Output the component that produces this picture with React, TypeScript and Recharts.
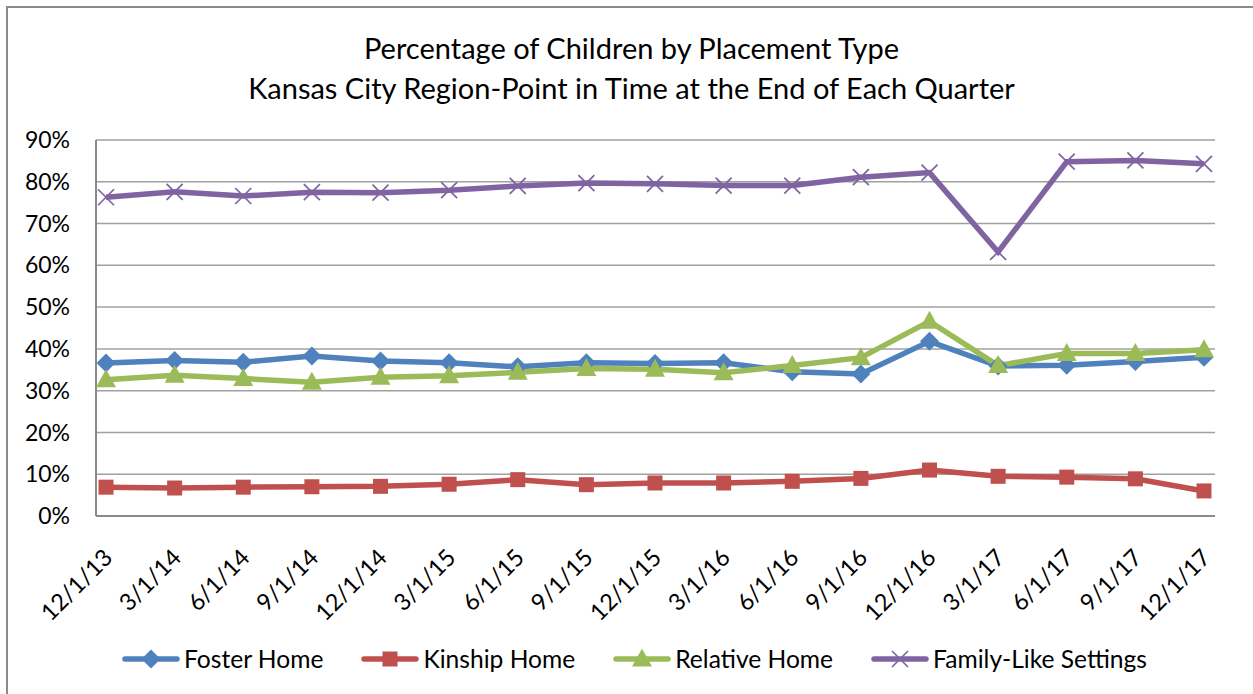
import React from "react";
import { LineChart, Line, XAxis, YAxis, CartesianGrid } from "recharts";

const categories = [
  "12/1/13", "3/1/14", "6/1/14", "9/1/14", "12/1/14", "3/1/15", "6/1/15", "9/1/15",
  "12/1/15", "3/1/16", "6/1/16", "9/1/16", "12/1/16", "3/1/17", "6/1/17", "9/1/17", "12/1/17",
];
const fosterHome = [36.6, 37.2, 36.8, 38.3, 37.1, 36.7, 35.7, 36.7, 36.5, 36.7, 34.5, 34.0, 41.8, 35.9, 36.1, 37.0, 38.0];
const kinshipHome = [6.9, 6.7, 6.9, 7.0, 7.1, 7.6, 8.7, 7.5, 7.9, 7.9, 8.3, 9.0, 11.0, 9.5, 9.3, 8.9, 6.0];
const relativeHome = [32.6, 33.7, 32.9, 32.0, 33.2, 33.6, 34.4, 35.3, 35.1, 34.3, 36.0, 37.9, 46.6, 36.0, 38.9, 38.9, 39.8];
const familyLike = [76.3, 77.6, 76.6, 77.5, 77.4, 78.0, 79.0, 79.7, 79.5, 79.1, 79.1, 81.1, 82.2, 63.2, 84.8, 85.1, 84.3];
const yTicks = [0, 10, 20, 30, 40, 50, 60, 70, 80, 90];
const titleLines = [
  "Percentage of Children by Placement Type",
  "Kansas City Region-Point in Time at the End of Each Quarter",
];

const seriesNames = ["Foster Home", "Kinship Home", "Relative Home", "Family-Like Settings"];
const seriesKeys = ["foster", "kinship", "relative", "family"];
const colors = ["#4F81BD", "#C0504D", "#9BBB59", "#8064A2"];
const markerKinds = ["diamond", "square", "triangle", "x"];

const data = categories.map((c, i) => ({
  date: c,
  foster: fosterHome[i],
  kinship: kinshipHome[i],
  relative: relativeHome[i],
  family: familyLike[i],
}));

const FONT = "Lato, 'Open Sans', sans-serif";

function Marker({ kind, cx, cy, color }: { kind: string; cx: number; cy: number; color: string }) {
  if (kind === "diamond") {
    const s = 9.5;
    return <polygon points={`${cx},${cy - s} ${cx + s},${cy} ${cx},${cy + s} ${cx - s},${cy}`} fill={color} />;
  }
  if (kind === "square") {
    const s = 7.5;
    return <rect x={cx - s} y={cy - s} width={2 * s} height={2 * s} fill={color} />;
  }
  if (kind === "triangle") {
    return <polygon points={`${cx},${cy - 10.5} ${cx + 10},${cy + 7.5} ${cx - 10},${cy + 7.5}`} fill={color} />;
  }
  const s = 8;
  return (
    <g stroke={color} strokeWidth={1.7}>
      <line x1={cx - s} y1={cy - s} x2={cx + s} y2={cy + s} />
      <line x1={cx - s} y1={cy + s} x2={cx + s} y2={cy - s} />
    </g>
  );
}

const makeDot = (kind: string, color: string) => (props: any) => {
  const { cx, cy, index } = props;
  if (cx == null || cy == null) return <g key={`d-${kind}-${index}`} />;
  return (
    <g key={`d-${kind}-${index}`}>
      <Marker kind={kind} cx={cx} cy={cy} color={color} />
    </g>
  );
};

const XTick = (props: any) => {
  const { x, y, payload } = props;
  return (
    <text
      transform={`translate(${x + 8},${y + 43}) rotate(-45)`}
      textAnchor="end"
      fontFamily={FONT}
      fontSize={23.5}
      fill="#000"
    >
      {payload.value}
    </text>
  );
};

function LegendItem({ i }: { i: number }) {
  return (
    <div style={{ display: "flex", alignItems: "center" }}>
      <svg width={58} height={24} style={{ display: "block" }}>
        <line x1={3} y1={12} x2={55} y2={12} stroke={colors[i]} strokeWidth={5.5} strokeLinecap="round" />
        <Marker kind={markerKinds[i]} cx={29} cy={12} color={colors[i]} />
      </svg>
      <span style={{ marginLeft: 4, fontFamily: FONT, fontSize: 24.6, color: "#000", whiteSpace: "nowrap" }}>
        {seriesNames[i]}
      </span>
    </div>
  );
}

export default function App() {
  return (
    <div
      style={{
        position: "absolute",
        left: 6,
        top: 6,
        width: 1300,
        height: 720,
        border: "2px solid #8a8a8a",
        boxSizing: "border-box",
        background: "#fff",
      }}
    >
      <div style={{ position: "absolute", left: 0, top: 0 }}>
        <LineChart
          width={1245}
          height={686}
          data={data}
          margin={{ top: 132, right: 38, bottom: 58, left: 8 }}
        >
          <CartesianGrid vertical={false} stroke="#a0a0a0" strokeWidth={1.5} />
          <XAxis
            dataKey="date"
            height={120}
            interval={0}
            padding={{ left: 10, right: 11 }}
            tickLine={false}
            tickSize={0}
            tickMargin={0}
            axisLine={{ stroke: "#8a8a8a", strokeWidth: 2 }}
            tick={<XTick />}
          />
          <YAxis
            width={80}
            domain={[0, 90]}
            ticks={yTicks}
            interval={0}
            tickFormatter={(v: number) => `${v}%`}
            tickLine={false}
            tickSize={0}
            tickMargin={26}
            axisLine={{ stroke: "#8a8a8a", strokeWidth: 2 }}
            tick={{ fontFamily: FONT, fontSize: 23, fill: "#000" }}
          />
          {seriesKeys.map((k, i) => (
            <Line
              key={k}
              type="linear"
              dataKey={k}
              name={seriesNames[i]}
              stroke={colors[i]}
              strokeWidth={5.5}
              dot={makeDot(markerKinds[i], colors[i])}
              activeDot={false}
              isAnimationActive={false}
            />
          ))}
        </LineChart>
      </div>
      {titleLines.map((t, i) => (
        <div
          key={t}
          style={{
            position: "absolute",
            left: 0,
            width: 1245,
            top: 22 + i * 40,
            textAlign: "center",
            fontFamily: FONT,
            fontSize: 29,
            lineHeight: "36px",
            color: "#000",
          }}
        >
          <span style={{ position: "relative", left: 1 }}>{t}</span>
        </div>
      ))}
      <div
        style={{
          position: "absolute",
          left: 0,
          width: 1253,
          top: 636,
          display: "flex",
          justifyContent: "center",
          gap: 38,
        }}
      >
        {seriesNames.map((_, i) => (
          <LegendItem key={i} i={i} />
        ))}
      </div>
    </div>
  );
}
